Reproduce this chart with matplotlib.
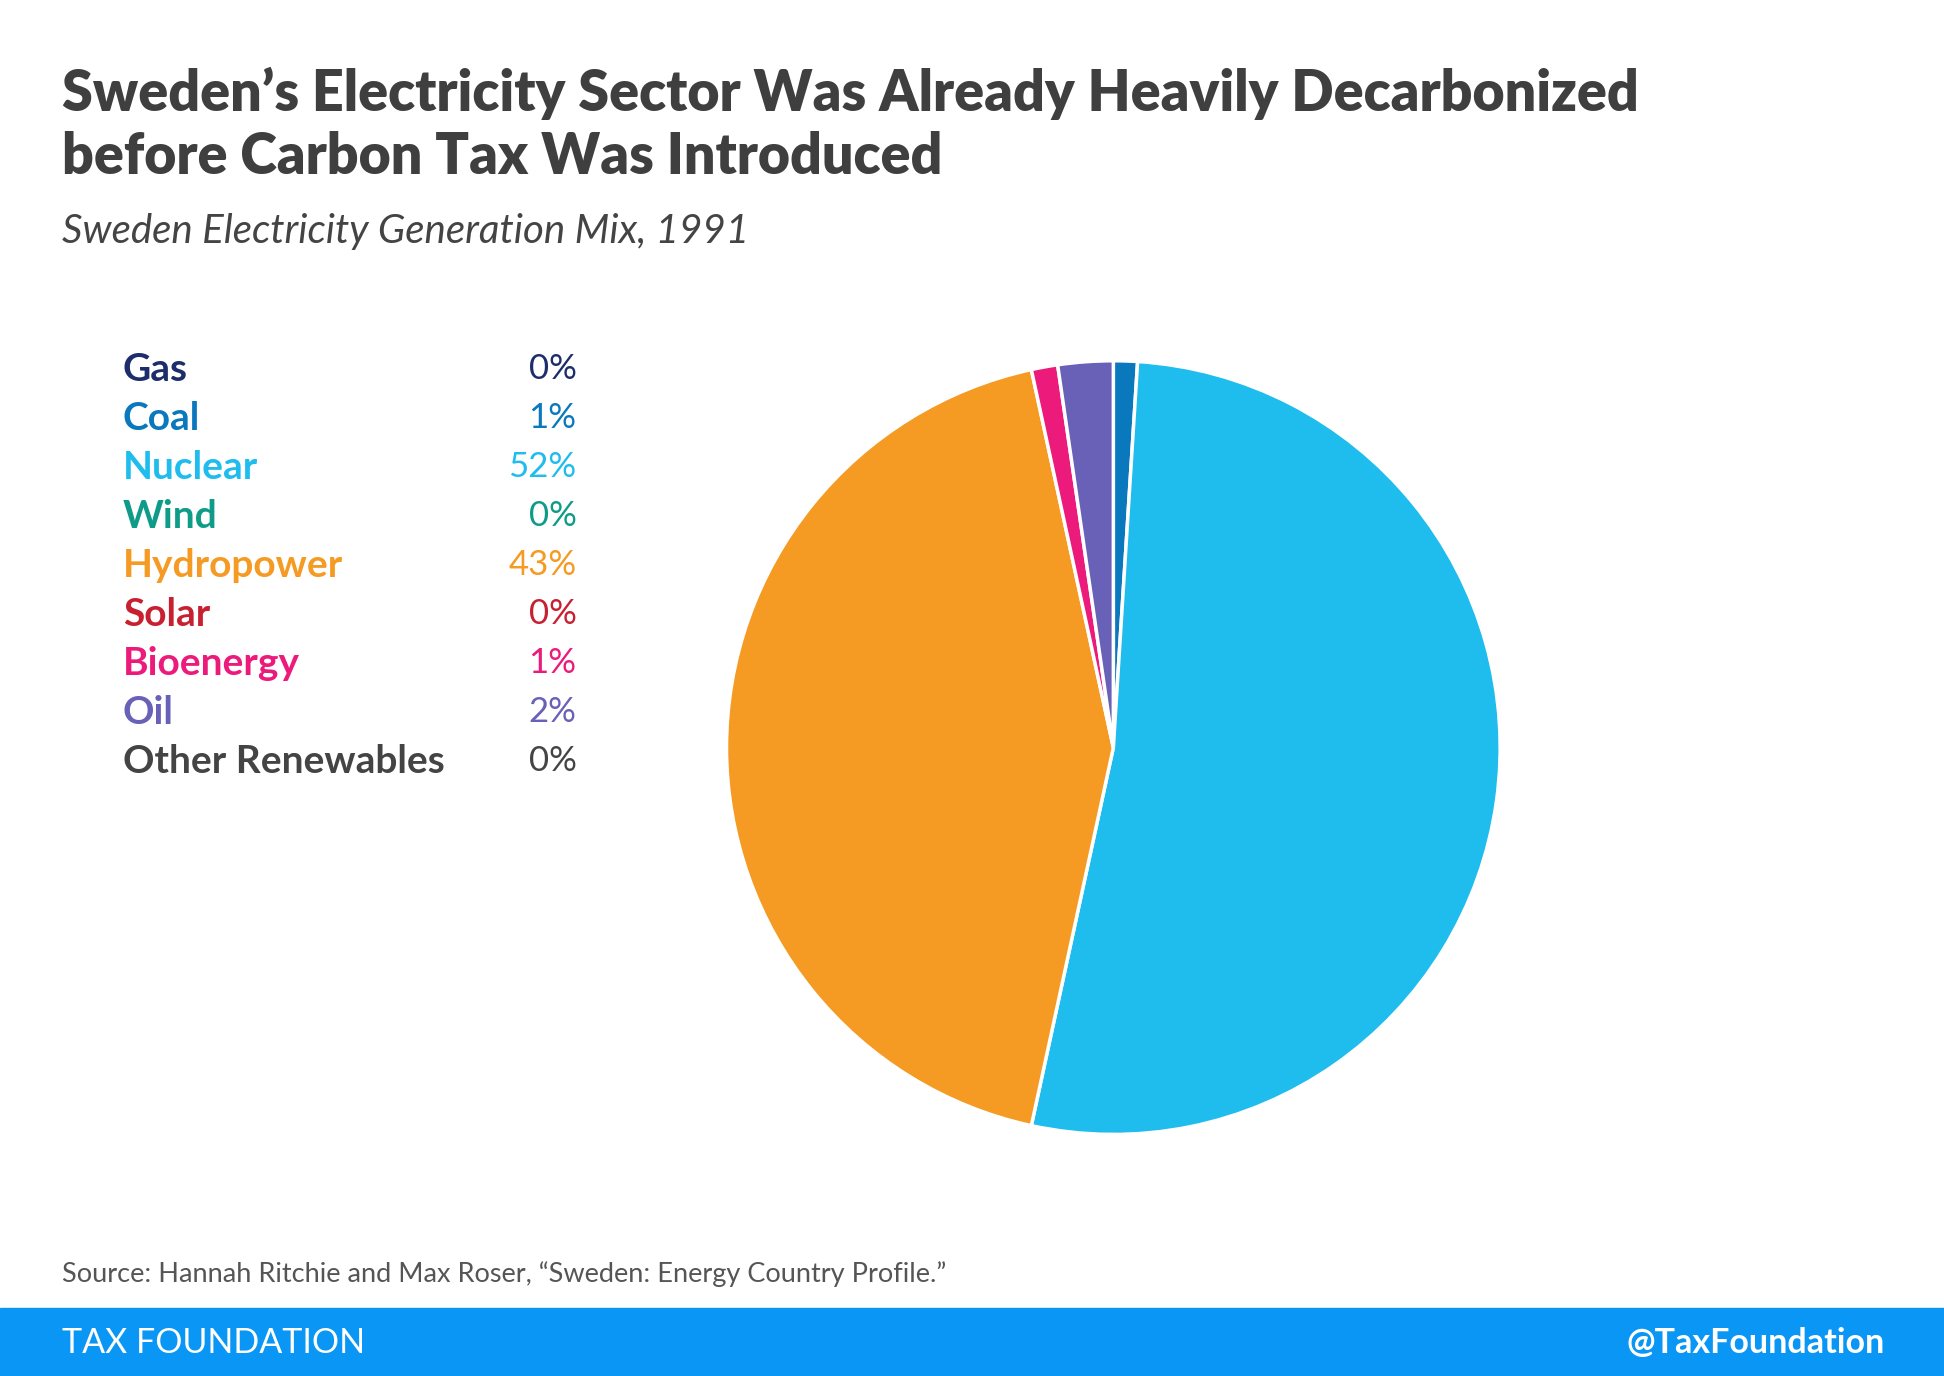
import matplotlib
matplotlib.use("Agg")
import matplotlib.pyplot as plt
from matplotlib.patches import Rectangle

categories = ["Gas", "Coal", "Nuclear", "Wind", "Hydropower", "Solar", "Bioenergy", "Oil", "Other Renewables"]
values = [0.0, 1.0, 52.4, 0.0, 43.2, 0.0, 1.1, 2.3, 0.0]
labels_pct = ["0%", "1%", "52%", "0%", "43%", "0%", "1%", "2%", "0%"]
colors = ["#1d2d6b", "#0a78bd", "#1fbcee", "#0e9c88", "#f59a22", "#c72030", "#ec1b7b", "#6961b8", "#444444"]

W, H = 1944, 1376
S = 1944 / 1568
fig = plt.figure(figsize=(W / 100, H / 100), dpi=100)
plt.rcParams['font.family'] = ['Lato', 'DejaVu Sans']

def fx(x): return x * S / W
def fy(y): return 1 - y * S / H

fig.text(fx(50), fy(75), "Sweden\u2019s Electricity Sector Was Already Heavily Decarbonized",
         fontsize=40, fontweight="heavy", color="#3f3f3f", va="center")
fig.text(fx(50), fy(127), "before Carbon Tax Was Introduced",
         fontsize=40, fontweight="heavy", color="#3f3f3f", va="center")
fig.text(fx(50), fy(187), "Sweden Electricity Generation Mix, 1991",
         fontsize=29, style="italic", color="#444444", va="center")

for i, (c, p, col) in enumerate(zip(categories, labels_pct, colors)):
    y = 298 + i * 39.5
    fig.text(fx(99), fy(y), c, fontsize=28, fontweight="bold", color=col, va="center")
    fig.text(fx(465), fy(y), p, fontsize=25, color=col, va="center", ha="right")

# pie
cx, cy, r = 898, 603, 312
ax = fig.add_axes([fx(cx - r), fy(cy + r), 2 * r * S / W, 2 * r * S / H])
pv = [v for v in values if v > 0]
pc = [c for v, c in zip(values, colors) if v > 0]
ax.pie(pv, colors=pc, startangle=90, counterclock=False,
       wedgeprops=dict(edgecolor="white", linewidth=2.5))
ax.set_xlim(-1, 1)
ax.set_ylim(-1, 1)
ax.set_aspect("equal")
ax.axis("off")

fig.text(fx(50), fy(1028), "Source: Hannah Ritchie and Max Roser, \u201cSweden: Energy Country Profile.\u201d",
         fontsize=19.5, color="#555555", va="center")

fig.patches.append(Rectangle((0, 0), 1, (1110 - 1055) * S / H, transform=fig.transFigure,
                             color="#0a96f5", zorder=0))
fig.text(fx(50), fy(1083), "TAX FOUNDATION", fontsize=24.5, color="white", va="center")
fig.text(fx(1520), fy(1083), "@TaxFoundation", fontsize=24.5, fontweight="bold", color="white",
         va="center", ha="right")

fig.savefig("out.png", dpi=100)
